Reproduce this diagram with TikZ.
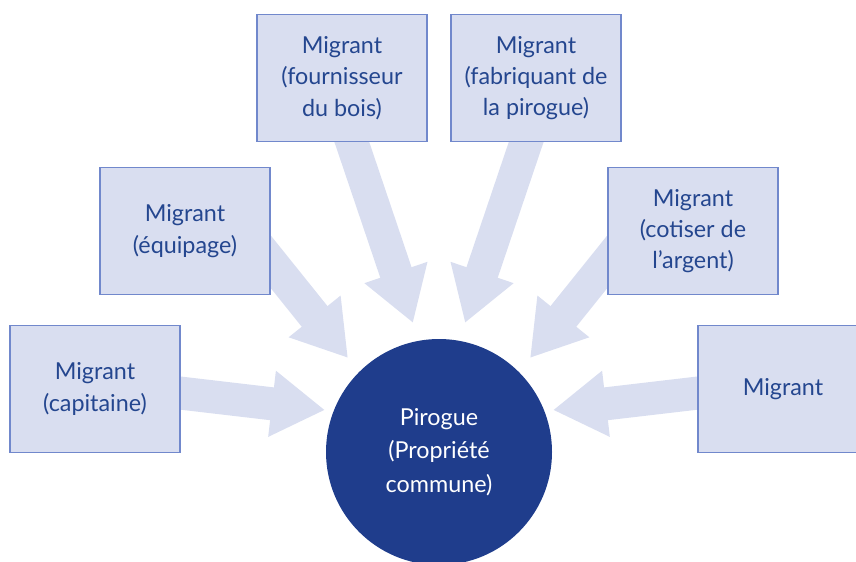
\documentclass[tikz,border=0pt]{standalone}
\usepackage{fontspec}
\setmainfont{Lato}
\usetikzlibrary{arrows.meta}

\definecolor{pale}{HTML}{D9DEF0}
\definecolor{frame}{HTML}{7188CC}
\definecolor{navy}{HTML}{1F3D8C}
\definecolor{ink}{HTML}{24468F}

\tikzset{
  migrant/.style={draw=frame, line width=0.8pt, fill=pale, text=ink,
    minimum width=127.5pt, minimum height=95pt, inner sep=0pt,
    align=center, font=\fontsize{17.5}{23.5}\selectfont},
  flow/.style={draw=pale, line width=24.75pt,
    -{Triangle[length=40pt, width=47pt]}},
}

\begin{document}
\begin{tikzpicture}[x=0.75pt,y=0.75pt,yscale=-1,xscale=1]
\useasboundingbox (0,0) rectangle (856,561);

% tails sit inside the boxes, tips stop short of the circle
\coordinate (t1) at (150,389.5);  \coordinate (p1) at (325,410);
\coordinate (t2) at (234,216);    \coordinate (p2) at (348,358);
\coordinate (t3) at (341,110);    \coordinate (p3) at (413,323);
\coordinate (t4) at (537,110);    \coordinate (p4) at (465,323);
\coordinate (t5) at (644,216);    \coordinate (p5) at (530,358);
\coordinate (t6) at (728,389.5);  \coordinate (p6) at (553,410);

\draw[flow] (t1) -- (p1);
\draw[flow] (t2) -- (p2);
\draw[flow] (t3) -- (p3);
\draw[flow] (t4) -- (p4);
\draw[flow] (t5) -- (p5);
\draw[flow] (t6) -- (p6);

% the six contributors
\node[migrant] (capitaine) at (95,389)  {Migrant\\(capitaine)};
\node[migrant] (equipage)  at (185,231) {Migrant\\(équipage)};
\node[migrant] (bois)      at (342,78)  {Migrant\\(fournisseur\\du bois)};
\node[migrant] (fabricant) at (536,78)  {Migrant\\(fabriquant de\\la pirogue)};
\node[migrant] (cotiser)   at (693,231) {Migrant\\(cotiser de\\l’argent)};
\node[migrant] (autre)     at (783,389) {Migrant};

% shared canoe
\node[circle, fill=navy, text=white, minimum size=169.5pt, inner sep=0pt,
  align=center, font=\fontsize{17.5}{25}\selectfont]
  (pirogue) at (439,452) {Pirogue\\(Propriété\\commune)};
\end{tikzpicture}
\end{document}
